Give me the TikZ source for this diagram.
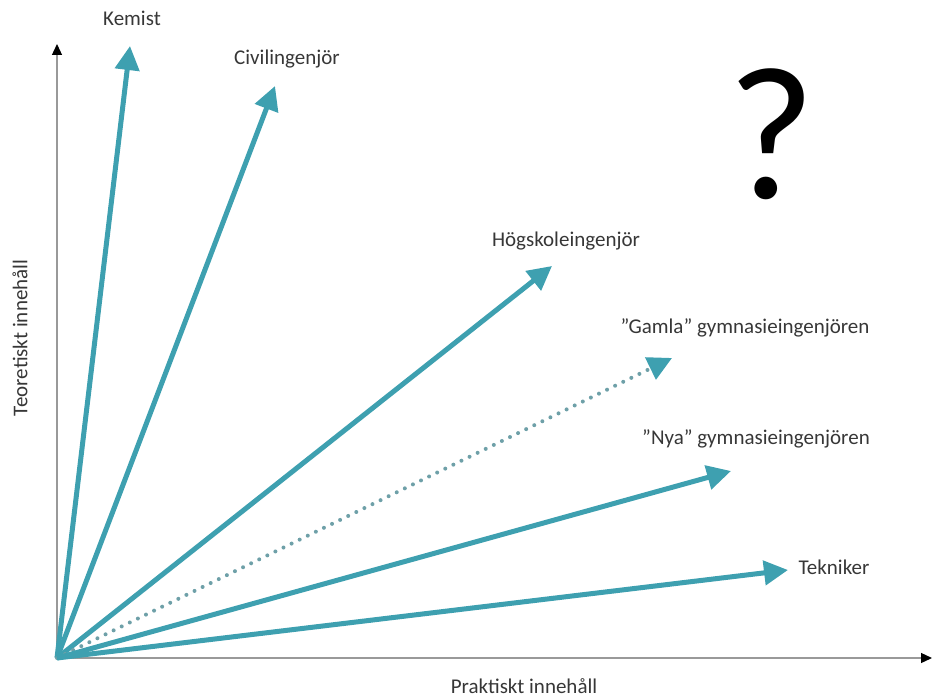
\documentclass[tikz,border=0pt]{standalone}
\usepackage{fontspec}
\setmainfont{Carlito}
\usepackage{tikz}
\usetikzlibrary{arrows.meta}
\usetikzlibrary{positioning}
\definecolor{teal1}{RGB}{62,160,176}
\definecolor{dotc}{RGB}{110,160,168}
\definecolor{txt}{RGB}{55,55,55}

\begin{document}
\begin{tikzpicture}[x=1pt,y=-1pt,
  arr/.style={draw=teal1, line width=5pt, -{Triangle[length=24pt,width=24pt,teal1]}},
  lbl/.style={text=txt, font=\fontsize{21}{25}\selectfont, inner sep=0pt},
  axis/.style={draw=gray!80, line width=1.3pt, -{Triangle[length=11pt,width=10pt,black]}}]
 \useasboundingbox (0,0) rectangle (937,698);

 %axes
 \coordinate (o) at (57,658);
 \coordinate (xend) at (932,658);
 \coordinate (yend) at (57,44);
 \path[axis] (o) -- (xend);
 \path[axis] (o) -- (yend);
 \node[lbl, rotate=90] (ylab) at (20,338) {Teoretiskt innehåll};
 \node[lbl] (xlab) at (524,686) {Praktiskt innehåll};

 %tips
 \coordinate (kem) at (130,46);
 \coordinate (civ) at (275,86);
 \coordinate (hog) at (552,266);
 \coordinate (gam) at (672,358);
 \coordinate (nya) at (731,471);
 \coordinate (tek) at (788,570);

 %lines
 \path[arr] (o) -- (kem);
 \path[arr] (o) -- (civ);
 \path[arr] (o) -- (hog);
 \path[arr, draw=dotc, line width=4pt, line cap=round, dash pattern=on 0pt off 9pt] (o) -- (gam);
 \path[arr] (o) -- (nya);
 \path[arr] (o) -- (tek);

 %labels
 \node[lbl] (lkem) at (132,18) {Kemist};
 \node[lbl] (lciv) at (287,59) {Civilingenjör};
 \node[lbl] (lhog) at (566,241) {Högskoleingenjör};
 \node[lbl] (lgam) at (745,328) {”Gamla” gymnasieingenjören};
 \node[lbl] (lnya) at (756,439) {”Nya” gymnasieingenjören};
 \node[lbl] (ltek) at (834,567) {Tekniker};

 %question
 \node[font=\fontsize{190}{190}\selectfont, inner sep=0pt] (q) at (772,134) {?};
\end{tikzpicture}
\end{document}
